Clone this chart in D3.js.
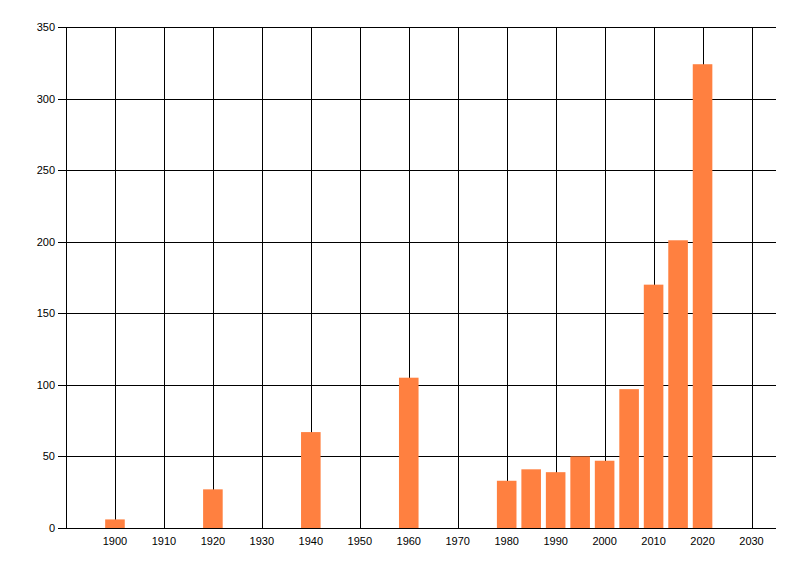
<!DOCTYPE html>
<html>
<head>
<meta charset="utf-8">
<script src="https://cdn.jsdelivr.net/npm/d3@7"></script>
<style>
  body { margin: 0; background: #fff; }
  text { font-family: "Liberation Sans", Arial, sans-serif; font-size: 11px; fill: #000; }
</style>
</head>
<body>
<div id="chart"></div>
<script>
// values
const years  = [1900, 1920, 1940, 1960, 1980, 1985, 1990, 1995, 2000, 2005, 2010, 2015, 2020];
const counts = [6, 27, 67, 105, 33, 41, 39, 50, 47, 97, 170, 201, 324];
const xTicks = [1900, 1910, 1920, 1930, 1940, 1950, 1960, 1970, 1980, 1990, 2000, 2010, 2020, 2030];
const yTicks = [0, 50, 100, 150, 200, 250, 300, 350];

const margin = { top: 27, right: 24, bottom: 48, left: 66 },
      width = 800 - margin.left - margin.right,
      height = 576 - margin.top - margin.bottom;

const svg = d3.select("#chart")
    .append("svg")
    .attr("width", 800)
    .attr("height", 576)
    .append("g")
    .attr("transform", `translate(${margin.left},${margin.top})`);

const x = d3.scaleLinear().domain([1890, 2035]).range([0, width]);
const y = d3.scaleLinear().domain([0, 350]).range([height, 0]);

// grid
svg.selectAll(".hgrid")
    .data(yTicks)
    .enter().append("line")
    .attr("x1", -8).attr("x2", width)
    .attr("y1", d => Math.round(y(d)) + 0.5)
    .attr("y2", d => Math.round(y(d)) + 0.5)
    .attr("stroke", "#000");

svg.selectAll(".vgrid")
    .data(xTicks)
    .enter().append("line")
    .attr("x1", d => Math.round(x(d)) + 0.5)
    .attr("x2", d => Math.round(x(d)) + 0.5)
    .attr("y1", 0).attr("y2", height)
    .attr("stroke", "#000");

// left axis line
svg.append("line")
    .attr("x1", 0.5).attr("x2", 0.5)
    .attr("y1", 0).attr("y2", height)
    .attr("stroke", "#000");

// bars, 4 years wide
const barW = x(1894) - x(1890);
svg.selectAll(".bar")
    .data(years.map((yr, i) => ({ year: yr, value: counts[i] })))
    .enter().append("rect")
    .attr("class", "bar")
    .attr("x", d => x(d.year) - barW / 2)
    .attr("y", d => y(d.value))
    .attr("width", barW)
    .attr("height", d => y(0) - y(d.value))
    .style("fill", "#FF8040");

// labels
svg.selectAll(".ylab")
    .data(yTicks)
    .enter().append("text")
    .attr("x", -11)
    .attr("y", d => y(d) + 4)
    .attr("text-anchor", "end")
    .text(d => d);

svg.selectAll(".xlab")
    .data(xTicks)
    .enter().append("text")
    .attr("x", d => x(d))
    .attr("y", height + 17)
    .attr("text-anchor", "middle")
    .text(d => d);
</script>
</body>
</html>
